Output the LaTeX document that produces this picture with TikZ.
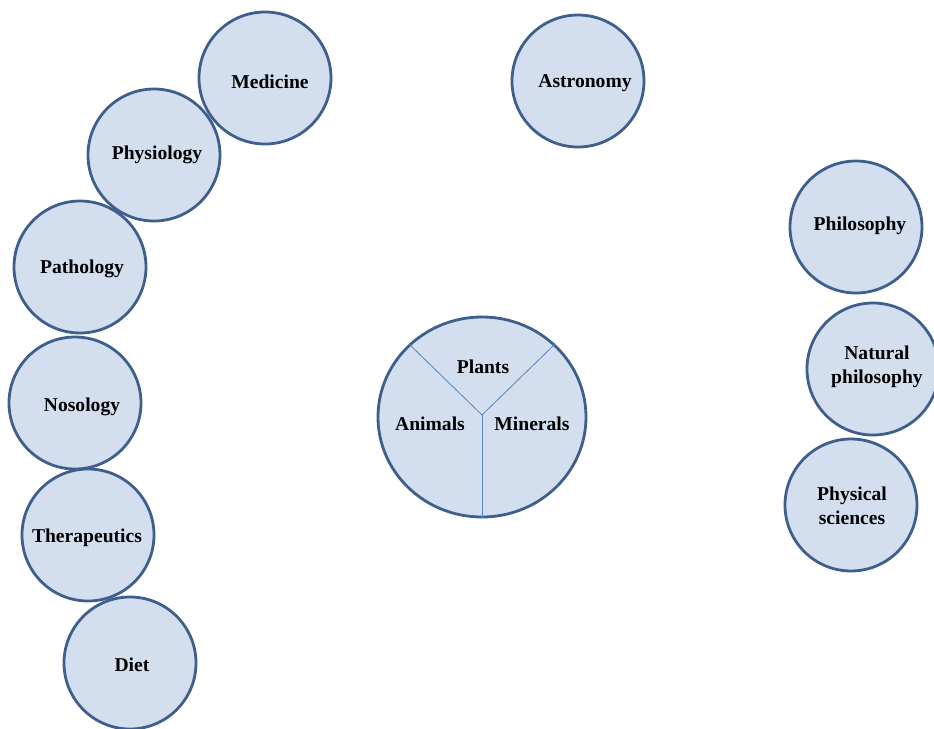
\documentclass[tikz,border=0pt]{standalone}
\usepackage{fontspec}
\setmainfont{Liberation Serif}
\usepackage{xcolor}
\usetikzlibrary{shapes.geometric}
\definecolor{topicfill}{RGB}{211,223,238}
\definecolor{topicedge}{RGB}{62,94,140}
\definecolor{splitline}{RGB}{84,133,196}

\begin{document}
\begin{tikzpicture}[
  x=0.5pt, y=-0.5pt,
  topic/.style={circle, draw=topicedge, fill=topicfill, line width=1.4pt, minimum size=66pt, inner sep=0pt, align=center, font=\bfseries\fontsize{9.8}{12}\selectfont},
  kingdoms/.style={ellipse, draw=topicedge, fill=topicfill, line width=1.4pt, minimum width=104pt, minimum height=100pt, inner sep=0pt},
  lbl/.style={font=\bfseries\fontsize{9.8}{12}\selectfont}
]
\useasboundingbox (0,0) rectangle (934,729);
\node[topic] (med) at (265,78) {};
\node[topic] (ast) at (578,81) {};
\node[topic] (phys) at (154,155) {};
\node[topic] (path) at (80,267) {};
\node[topic] (nos) at (75,403) {};
\node[topic] (ther) at (88,535) {};
\node[topic] (diet) at (130,663) {};
\node[topic] (phil) at (856,227) {};
\node[topic] (natphil) at (873,369) {};
\node[topic] (physsci) at (851,505) {};
\node[lbl] at (270,82) {Medicine};
\node[lbl] at (585,83) {Astronomy};
\node[lbl] at (157,155) {Physiology};
\node[lbl] at (82,269) {Pathology};
\node[lbl] at (82,407) {Nosology};
\node[lbl] at (87,538) {Therapeutics};
\node[lbl] at (132,665) {Diet};
\node[lbl] at (860,226) {Philosophy};
\node[lbl, align=center] at (877,367) {Natural\\philosophy};
\node[lbl, align=center] at (852,506) {Physical\\sciences};
\node[kingdoms] (nat) at (482,417) {};
\coordinate (hub) at (482,415);
\draw[splitline, line width=0.4pt] (hub) -- (nat.135);
\draw[splitline, line width=0.4pt] (hub) -- (nat.45);
\draw[splitline, line width=0.4pt] (hub) -- (nat.270);
\node[lbl] (plants) at (483,367) {Plants};
\node[lbl] (animals) at (430,424) {Animals};
\node[lbl] (minerals) at (532,424) {Minerals};
\end{tikzpicture}
\end{document}
